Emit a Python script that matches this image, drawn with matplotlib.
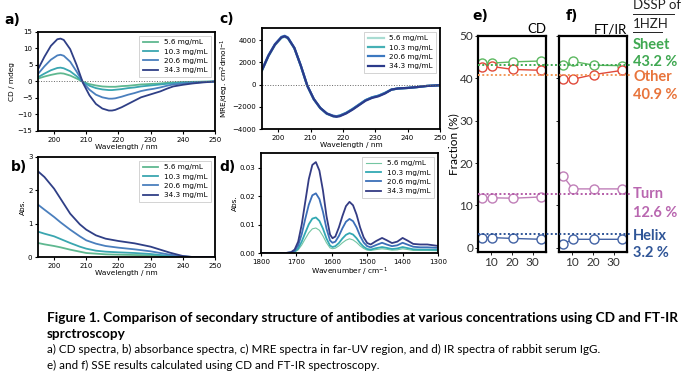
import matplotlib
matplotlib.use("Agg")
import matplotlib.pyplot as plt
from matplotlib.lines import Line2D
from matplotlib import transforms

# ---- data ----
conc_labels = ["5.6 mg/mL", "10.3 mg/mL", "20.6 mg/mL", "34.3 mg/mL"]
conc = [5.6, 10.3, 20.6, 34.3]

# a) CD spectra (mdeg)
wl_cd = [195, 197, 199, 201, 202, 203, 205, 207, 209, 211, 213, 215, 217, 218,
         219, 221, 223, 225, 227, 229, 231, 233, 235, 237, 240, 243, 246, 250]
cd_5_6 = [0.9, 1.5, 2.0, 2.4, 2.5, 2.4, 1.8, 0.9, -0.1, -0.8, -1.2, -1.5, -1.6, -1.6,
          -1.6, -1.4, -1.3, -1.1, -0.9, -0.8, -0.7, -0.6, -0.4, -0.3, -0.2, -0.1, -0.05, 0.0]
cd_10_3 = [1.3, 2.4, 3.4, 4.1, 4.2, 4.0, 3.1, 1.6, -0.2, -1.3, -2.0, -2.4, -2.6, -2.6,
           -2.5, -2.3, -2.0, -1.8, -1.5, -1.3, -1.1, -0.9, -0.7, -0.5, -0.3, -0.2, -0.1, 0.0]
cd_20_6 = [2.3, 4.6, 6.6, 7.9, 8.1, 7.8, 6.0, 3.0, -0.3, -2.5, -4.0, -4.8, -5.2, -5.2,
           -5.1, -4.6, -4.0, -3.5, -2.9, -2.5, -2.2, -1.8, -1.3, -0.9, -0.6, -0.4, -0.2, 0.0]
cd_34_3 = [3.7, 7.5, 10.8, 12.8, 13.0, 12.6, 9.8, 5.0, -0.5, -4.2, -6.8, -8.2, -8.8, -8.8,
           -8.6, -7.8, -6.8, -5.8, -4.8, -4.2, -3.6, -3.0, -2.2, -1.5, -1.0, -0.6, -0.3, 0.0]

# b) absorbance spectra
wl_abs = [195, 197, 200, 202, 205, 208, 210, 213, 216, 220, 225, 230, 233, 236, 240, 243, 246, 250]
abs_5_6 = [0.42, 0.38, 0.33, 0.29, 0.22, 0.16, 0.12, 0.10, 0.08, 0.07, 0.06, 0.05, 0.03, 0.02, 0.0, 0.0, 0.0, 0.0]
abs_10_3 = [0.76, 0.70, 0.62, 0.54, 0.42, 0.31, 0.25, 0.19, 0.16, 0.14, 0.12, 0.09, 0.06, 0.04, 0.01, 0.0, 0.0, 0.0]
abs_20_6 = [1.57, 1.42, 1.20, 1.04, 0.82, 0.62, 0.50, 0.40, 0.33, 0.28, 0.23, 0.17, 0.12, 0.07, 0.02, 0.0, 0.0, 0.0]
abs_34_3 = [2.57, 2.40, 2.05, 1.75, 1.30, 0.98, 0.82, 0.65, 0.55, 0.48, 0.41, 0.31, 0.22, 0.13, 0.03, 0.0, 0.0, 0.0]

# c) MRE spectra
mre_5_6 = [1250, 2550, 3550, 4200, 4300, 4150, 3250, 1650, -150, -1350, -2150, -2650, -2850, -2850,
           -2800, -2550, -2200, -1800, -1400, -1150, -1000, -750, -450, -350, -300, -220, -120, -60]
mre_10_3 = [1300, 2600, 3600, 4250, 4350, 4200, 3300, 1700, -100, -1300, -2100, -2600, -2850, -2850,
            -2800, -2550, -2200, -1800, -1400, -1150, -1000, -750, -450, -350, -300, -220, -120, -60]
mre_20_6 = [1350, 2650, 3650, 4300, 4400, 4250, 3300, 1700, -100, -1300, -2100, -2600, -2800, -2850,
            -2800, -2550, -2200, -1800, -1400, -1150, -1000, -750, -450, -350, -300, -220, -120, -60]
mre_34_3 = [1300, 2600, 3600, 4250, 4350, 4200, 3300, 1700, -100, -1300, -2100, -2600, -2850, -2900,
            -2850, -2600, -2250, -1850, -1450, -1200, -1050, -800, -450, -350, -300, -220, -120, -60]

# d) IR spectra
wn = [1800, 1760, 1730, 1715, 1705, 1695, 1685, 1675, 1665, 1655, 1645, 1635, 1625, 1615, 1605,
      1598, 1590, 1580, 1570, 1560, 1550, 1540, 1530, 1520, 1510, 1500, 1490, 1475, 1458, 1445,
      1430, 1415, 1400, 1385, 1370, 1350, 1330, 1300]
ir_5_6 = [0, 0, 0, 0.0001, 0.0003, 0.0011, 0.0028, 0.005, 0.0071, 0.0085, 0.0088, 0.008, 0.006, 0.0036,
          0.0018, 0.0015, 0.0017, 0.0025, 0.0036, 0.0045, 0.005, 0.0046, 0.0037, 0.0025, 0.0016, 0.001,
          0.0009, 0.0012, 0.0015, 0.0013, 0.001, 0.0011, 0.0015, 0.0012, 0.0009, 0.0009, 0.0009, 0.0008]
ir_10_3 = [0, 0, 0, 0.0001, 0.0005, 0.0016, 0.004, 0.0071, 0.0101, 0.0121, 0.0125, 0.0113, 0.0086, 0.0051,
           0.0026, 0.0021, 0.0024, 0.0035, 0.0051, 0.0064, 0.007, 0.0065, 0.0052, 0.0035, 0.0022, 0.0014,
           0.0012, 0.0017, 0.0021, 0.0018, 0.0014, 0.0016, 0.0021, 0.0017, 0.0013, 0.0012, 0.0012, 0.0011]
ir_20_6 = [0, 0, 0, 0.0002, 0.0008, 0.0027, 0.0066, 0.012, 0.017, 0.0203, 0.021, 0.019, 0.0145, 0.0086,
           0.0044, 0.0036, 0.004, 0.006, 0.0087, 0.011, 0.012, 0.0112, 0.009, 0.006, 0.0037, 0.0024,
           0.002, 0.0028, 0.0036, 0.003, 0.0024, 0.0027, 0.0036, 0.0029, 0.0022, 0.002, 0.002, 0.0018]
ir_34_3 = [0, 0, 0, 0.0003, 0.0012, 0.004, 0.010, 0.018, 0.026, 0.031, 0.032, 0.029, 0.022, 0.013,
           0.0065, 0.0052, 0.0058, 0.009, 0.013, 0.0165, 0.018, 0.0168, 0.0135, 0.009, 0.0055, 0.0035,
           0.003, 0.0042, 0.0053, 0.0045, 0.0035, 0.004, 0.0053, 0.0043, 0.0032, 0.003, 0.003, 0.0025]

# e) CD and f) FT/IR secondary structure fractions (%)
cd_sheet = [43.6, 43.6, 43.9, 44.1]
cd_other = [42.7, 42.8, 42.1, 41.9]
cd_turn = [11.8, 11.8, 11.7, 12.0]
cd_helix = [2.4, 2.4, 2.2, 2.0]
ir_sheet = [43.1, 44.0, 43.1, 43.0]
ir_other = [39.9, 39.8, 40.9, 41.9]
ir_turn = [16.9, 13.9, 13.9, 13.9]
ir_helix = [0.9, 2.0, 2.0, 2.0]

dssp_names = ["Sheet", "Other", "Turn", "Helix"]
dssp_values = [43.2, 40.9, 12.6, 3.2]

# ---- styling ----
W, H = 700, 382
spec_colors = ["#5fb890", "#3aa6b0", "#4a7fbd", "#2f3f86"]
mre_colors = ["#a9dcd2", "#46b0b5", "#3c78c0", "#2b3a8a"]
ir_colors = ["#74c6a2", "#33a9b3", "#3c6fb8", "#343c84"]
sse_line = {"Sheet": "#5cb860", "Other": "#e0493a", "Turn": "#c07fb8", "Helix": "#4262a4"}
sse_dot = {"Sheet": "#3fa851", "Other": "#f29a5a", "Turn": "#b45ca8", "Helix": "#2f5597"}
sse_text = {"Sheet": "#3fa851", "Other": "#e8743b", "Turn": "#b967b0", "Helix": "#2f5597"}

cal = ["Lato", "DejaVu Sans"]

fig = plt.figure(figsize=(W / 100, H / 100), dpi=100)


def px_axes(left, top, right, bottom):
    return fig.add_axes([left / W, 1 - bottom / H, (right - left) / W, (bottom - top) / H])


def style_spec(ax, xlabel, ylabel):
    for s in ax.spines.values():
        s.set_linewidth(1.3)
    ax.tick_params(labelsize=5, length=2.5, width=0.8, pad=1.5)
    ax.set_xlabel(xlabel, fontsize=5.3, labelpad=1)
    ax.set_ylabel(ylabel, fontsize=5.3, labelpad=1.5)


def spec_legend(ax):
    leg = ax.legend(fontsize=5.2, loc="upper right", handlelength=2.2, borderpad=0.5,
                    labelspacing=0.45, fancybox=False, framealpha=1, edgecolor="#cccccc")
    leg.get_frame().set_linewidth(0.6)


def fit_width(txt, target_px):
    fig.canvas.draw()
    w = txt.get_window_extent(fig.canvas.get_renderer()).width
    size = txt.get_fontsize() * target_px / w
    txt.set_fontsize(size)
    return size


# a) CD
ax_a = px_axes(38, 32, 215, 131)
for y, c, lab in zip([cd_5_6, cd_10_3, cd_20_6, cd_34_3], spec_colors, conc_labels):
    ax_a.plot(wl_cd, y, color=c, lw=1.3, label=lab)
ax_a.axhline(0, color="#666666", lw=0.7, ls=":")
ax_a.set_xlim(195, 250)
ax_a.set_ylim(-15, 15)
ax_a.set_yticks([-15, -10, -5, 0, 5, 10, 15])
ax_a.set_xticks([200, 210, 220, 230, 240, 250])
style_spec(ax_a, "Wavelength / nm", "CD / mdeg")
spec_legend(ax_a)

# b) absorbance
ax_b = px_axes(38, 157, 215, 257)
for y, c, lab in zip([abs_5_6, abs_10_3, abs_20_6, abs_34_3], spec_colors, conc_labels):
    ax_b.plot(wl_abs, y, color=c, lw=1.3, label=lab)
ax_b.set_xlim(195, 250)
ax_b.set_ylim(0, 3)
ax_b.set_yticks([0, 1, 2, 3])
ax_b.set_xticks([200, 210, 220, 230, 240, 250])
style_spec(ax_b, "Wavelength / nm", "Abs.")
spec_legend(ax_b)

# c) MRE
ax_c = px_axes(262, 28, 440, 129)
for y, c, lab in zip([mre_5_6, mre_10_3, mre_20_6, mre_34_3], mre_colors, conc_labels):
    ax_c.plot(wl_cd, y, color=c, lw=1.6, label=lab)
ax_c.axhline(0, color="#666666", lw=0.7, ls=":")
ax_c.set_xlim(195, 250)
ax_c.set_ylim(-4000, 5100)
ax_c.set_yticks([-4000, -2000, 0, 2000, 4000])
ax_c.set_xticks([200, 210, 220, 230, 240, 250])
style_spec(ax_c, "Wavelength / nm", r"MRE/deg. cm$^{2}$dmol$^{-1}$")
spec_legend(ax_c)

# d) IR
ax_d = px_axes(261, 153, 438, 253)
for y, c, lab, lw in zip([ir_5_6, ir_10_3, ir_20_6, ir_34_3], ir_colors, conc_labels, [0.8, 1.3, 1.3, 1.3]):
    ax_d.plot(wn, y, color=c, lw=lw, label=lab)
ax_d.set_xlim(1800, 1300)
ax_d.set_ylim(0, 0.0352)
ax_d.set_yticks([0.0, 0.01, 0.02, 0.03])
ax_d.set_yticklabels(["0.00", "0.01", "0.02", "0.03"])
ax_d.set_xticks([1800, 1700, 1600, 1500, 1400, 1300])
style_spec(ax_d, "Wavenumber / cm$^{-1}$", "Abs.")
spec_legend(ax_d)

# e) and f) SSE fractions
ax_e = px_axes(478, 36, 546, 252)
ax_f = px_axes(559, 36, 627, 252)
sets = [(ax_e, [cd_sheet, cd_other, cd_turn, cd_helix], "CD"),
        (ax_f, [ir_sheet, ir_other, ir_turn, ir_helix], "FT/IR")]
for ax, series, name in sets:
    ax.patch.set_alpha(0)
    for key, vals in zip(dssp_names, series):
        ax.plot(conc, vals, color=sse_line[key], lw=1.0, marker="o", ms=6.5,
                mfc="white", mec=sse_line[key], mew=1.0)
    ax.set_xlim(3.6, 36.5)
    ax.set_ylim(-1, 50)
    ax.set_xticks([10, 20, 30])
    ax.set_yticks([0, 10, 20, 30, 40, 50])
    for s in ax.spines.values():
        s.set_linewidth(1.6)
    ax.tick_params(labelsize=8.5, length=2, width=0.6, pad=1.5, labelcolor="#333333")
    for t in ax.get_xticklabels() + ax.get_yticklabels():
        t.set_family(cal)
    ax.set_title(name, loc="right", fontsize=9.5, family=cal, pad=2)
ax_f.tick_params(labelleft=False)
ax_e.set_ylabel("Fraction (%)", fontsize=8.5, family=cal, labelpad=0)

# DSSP reference lines spanning both panels
blend = transforms.blended_transform_factory(fig.transFigure, ax_e.transData)
for key, v in zip(dssp_names, dssp_values):
    fig.add_artist(Line2D([478 / W, 632 / W], [v, v], transform=blend,
                          color=sse_dot[key], lw=1.4, ls=(0, (1, 1.2))))

# DSSP labels
label_y = {"Sheet": (45, 62), "Other": (77, 95), "Turn": (194, 213), "Helix": (236, 253)}
for key, v in zip(dssp_names, dssp_values):
    y1, y2 = label_y[key]
    fig.text(633 / W, 1 - y1 / H, key, color=sse_text[key], fontsize=10.5,
             fontweight="bold", family=cal, va="center", ha="left")
    fig.text(633 / W, 1 - y2 / H, f"{v} %", color=sse_text[key], fontsize=10.5,
             fontweight="bold", family=cal, va="center", ha="left")

fig.text(633 / W, 1 - 5 / H, "DSSP of", fontsize=9.5, family=cal, va="center", color="#222222")
fig.text(633 / W, 1 - 24 / H, "1HZH", fontsize=9.5, family=cal, va="center", color="#222222")
fig.add_artist(Line2D([633 / W, 674 / W], [1 - 14 / H, 1 - 14 / H], color="#222222", lw=0.7))
fig.add_artist(Line2D([633 / W, 662 / W], [1 - 32 / H, 1 - 32 / H], color="#222222", lw=0.7))

# panel letters
for txt, x, y in [("a)", 4, 20), ("b)", 11, 167), ("c)", 219, 19), ("d)", 219, 167),
                  ("e)", 472, 16), ("f)", 566, 16)]:
    fig.text(x / W, 1 - y / H, txt, fontsize=10, fontweight="bold", va="center", ha="left")

# caption
cap1 = fig.text(47 / W, 1 - 318 / H,
                "Figure 1. Comparison of secondary structure of antibodies at various concentrations using CD and FT-IR",
                fontsize=10, fontweight="bold", family=cal, va="center")
bold_size = fit_width(cap1, 628)
fig.text(47 / W, 1 - 334 / H, "sprctroscopy", fontsize=bold_size, fontweight="bold", family=cal, va="center")
cap3 = fig.text(47 / W, 1 - 349 / H,
                "a) CD spectra, b) absorbance spectra, c) MRE spectra in far-UV region, and d) IR spectra of rabbit serum IgG.",
                fontsize=8, family=cal, va="center")
reg_size = fit_width(cap3, 550)
fig.text(47 / W, 1 - 365 / H, "e) and f) SSE results calculated using CD and FT-IR spectroscopy.",
         fontsize=reg_size, family=cal, va="center")

fig.savefig("out.png", dpi=100)
